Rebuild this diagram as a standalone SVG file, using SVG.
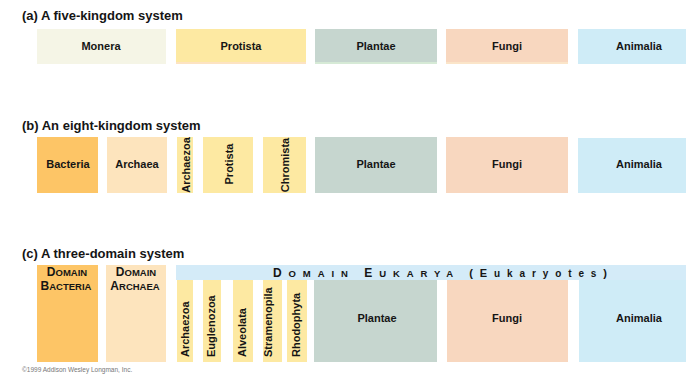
<svg xmlns="http://www.w3.org/2000/svg" width="686" height="375" viewBox="0 0 686 375">
<style>
text{font-family:"Liberation Sans",Arial,sans-serif;fill:#151515}
.t{font-size:13px;font-weight:bold}
.l{font-size:11px;font-weight:bold;text-anchor:middle}
.v{font-size:11px;font-weight:bold}
.sc{font-size:12px;font-weight:bold;text-anchor:middle}
.sm{font-size:9.5px}
.mon{fill:#f5f5e6}.pro{fill:#fde9a2}.pla{fill:#c6d6cf}.fun{fill:#f8d7bf}.ani{fill:#cfecf7}.bac{fill:#fdc566}.arc{fill:#fde4bd}.band{fill:#d4ebf8}
.cr{font-size:6.5px;fill:#777}
</style>
<rect width="686" height="375" fill="#fff"/>
<g id="row-a">
<text class="t" x="22" y="20">(a) A five-kingdom system</text>
<g id="a-monera"><rect class="mon" x="37" y="29" width="129" height="35"/><text class="l" x="101" y="50">Monera</text></g>
<g id="a-protista"><rect class="pro" x="176" y="29" width="130" height="35"/><rect x="176" y="62" width="130" height="2" fill="#fde3c2"/><text class="l" x="241" y="50">Protista</text></g>
<g id="a-plantae"><rect class="pla" x="315" y="29" width="122" height="35"/><rect x="315" y="62" width="122" height="2" fill="#d6ead6"/><text class="l" x="376" y="50">Plantae</text></g>
<g id="a-fungi"><rect class="fun" x="446" y="29" width="122" height="35"/><rect x="446" y="62" width="122" height="2" fill="#fbe5c9"/><text class="l" x="507" y="50">Fungi</text></g>
<g id="a-animalia"><rect class="ani" x="578" y="29" width="108" height="35"/><text class="l" x="639" y="50">Animalia</text></g>
</g>
<g id="row-b">
<text class="t" x="22" y="130">(b) An eight-kingdom system</text>
<g id="b-bacteria"><rect class="bac" x="37" y="137" width="61" height="56"/><text class="l" x="68" y="168">Bacteria</text></g>
<g id="b-archaea"><rect class="arc" x="107" y="137" width="60" height="56"/><text class="l" x="137" y="168">Archaea</text></g>
<g id="b-archaezoa"><rect class="pro" x="177" y="137" width="16" height="56"/><text class="v" text-anchor="middle" transform="translate(190 165) rotate(-90)">Archaezoa</text></g>
<g id="b-protista"><rect class="pro" x="203" y="137" width="50" height="56"/><text class="v" text-anchor="middle" transform="translate(233 164) rotate(-90)">Protista</text></g>
<g id="b-chromista"><rect class="pro" x="263" y="137" width="43" height="56"/><text class="v" text-anchor="middle" transform="translate(289 165) rotate(-90)">Chromista</text></g>
<g id="b-plantae"><rect class="pla" x="315" y="137" width="122" height="56"/><text class="l" x="376" y="168">Plantae</text></g>
<g id="b-fungi"><rect class="fun" x="446" y="137" width="122" height="56"/><text class="l" x="507" y="168">Fungi</text></g>
<g id="b-animalia"><rect class="ani" x="578" y="138" width="108" height="55"/><text class="l" x="639" y="168">Animalia</text></g>
</g>
<g id="row-c">
<text class="t" x="22" y="258">(c) A three-domain system</text>
<g id="c-bacteria"><rect class="bac" x="37" y="265" width="61" height="97"/>
<text class="sc" x="67" y="276">D<tspan class="sm">OMAIN</tspan></text>
<text class="sc" x="66" y="290">B<tspan class="sm">ACTERIA</tspan></text></g>
<g id="c-archaea"><rect class="arc" x="106" y="265" width="60" height="97"/>
<text class="sc" x="136" y="276">D<tspan class="sm">OMAIN</tspan></text>
<text class="sc" x="135" y="290">A<tspan class="sm">RCHAEA</tspan></text></g>
<g id="c-eukarya"><rect class="band" x="176" y="265" width="510" height="15"/>
<text x="273" y="277" textLength="334" lengthAdjust="spacing" style="font-size:12px;font-weight:bold">D<tspan class="sm">OMAIN </tspan>E<tspan class="sm">UKARYA </tspan><tspan style="font-size:11px">(E</tspan><tspan style="font-size:10px">ukaryotes</tspan><tspan style="font-size:11px">)</tspan></text></g>
<g id="c-archaezoa"><rect class="pro" x="177" y="280" width="16" height="82"/><text class="v" transform="translate(189 357) rotate(-90)">Archaezoa</text></g>
<g id="c-euglenozoa"><rect class="pro" x="203" y="280" width="18" height="82"/><text class="v" transform="translate(215 357) rotate(-90)">Euglenozoa</text></g>
<g id="c-alveolata"><rect class="pro" x="233" y="280" width="20" height="82"/><text class="v" transform="translate(246 357) rotate(-90)">Alveolata</text></g>
<g id="c-stramenopila"><rect class="pro" x="263" y="280" width="19" height="82"/><text class="v" transform="translate(272 357) rotate(-90)">Stramenopila</text></g>
<g id="c-rhodophyta"><rect class="pro" x="287" y="280" width="20" height="82"/><text class="v" transform="translate(300 357) rotate(-90)">Rhodophyta</text></g>
<g id="c-plantae"><rect class="pla" x="314" y="280" width="123" height="82"/><text class="l" x="377" y="322">Plantae</text></g>
<g id="c-fungi"><rect class="fun" x="447" y="280" width="121" height="82"/><text class="l" x="507" y="322">Fungi</text></g>
<g id="c-animalia"><rect class="ani" x="579" y="280" width="107" height="82"/><text class="l" x="639" y="322">Animalia</text></g>
</g>
<g id="connectors"/>
<text class="cr" x="22" y="372">©1999 Addison Wesley Longman, Inc.</text>
</svg>
